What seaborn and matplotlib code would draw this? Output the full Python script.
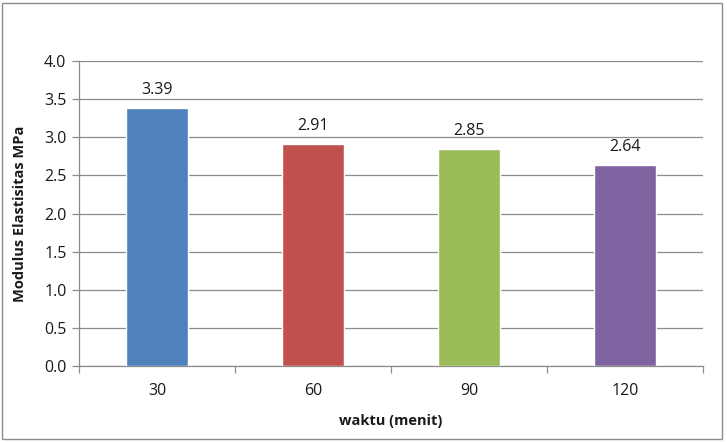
import matplotlib as mpl
import matplotlib.pyplot as plt
import pandas as pd
import seaborn as sns
from matplotlib.patches import Rectangle

waktu = ["30", "60", "90", "120"]
modulus = [3.39, 2.91, 2.85, 2.64]
bar_colors = ["#4F81BD", "#C0504D", "#9BBB59", "#8064A2"]
y_ticks = [0.0, 0.5, 1.0, 1.5, 2.0, 2.5, 3.0, 3.5, 4.0]

GRID = "#8c8c8c"
INK = "#1a1a1a"

sns.set_style("white")
mpl.rcParams["font.family"] = ["Open Sans", "DejaVu Sans"]

df = pd.DataFrame({"waktu": waktu, "modulus": modulus})

fig = plt.figure(figsize=(7.27, 4.42), dpi=100)
ax = fig.add_axes([79 / 727, 76 / 442, 624 / 727, 305 / 442])

sns.barplot(data=df, x="waktu", y="modulus", hue="waktu", palette=bar_colors,
            legend=False, width=0.4, saturation=1, ax=ax, zorder=3)

ax.set_ylim(0, 4.0)
ax.set_xlim(-0.5, len(waktu) - 0.5)
ax.set_yticks(y_ticks)
ax.set_yticklabels([f"{v:.1f}" for v in y_ticks])
ax.yaxis.grid(True, color=GRID, linewidth=0.9, zorder=0)
ax.set_axisbelow(True)

for side in ["top", "right"]:
    ax.spines[side].set_visible(False)
for side in ["left", "bottom"]:
    ax.spines[side].set_color(GRID)
    ax.spines[side].set_linewidth(0.9)

ax.tick_params(axis="y", which="major", length=5, width=0.9, color=GRID,
               labelsize=11.5, labelcolor=INK, pad=4, direction="out", left=True)
ax.tick_params(axis="x", which="major", length=0, labelsize=11.5, labelcolor=INK, pad=12)
ax.set_xticks([i - 0.5 for i in range(len(waktu) + 1)], minor=True)
ax.tick_params(axis="x", which="minor", length=5, width=0.9, color=GRID,
               direction="out", bottom=True)

ax.set_xlabel("waktu (menit)", fontsize=10.5, fontweight="bold", color=INK, labelpad=11)
ax.set_ylabel("Modulus Elastisitas MPa", fontsize=10.5, fontweight="bold", color=INK, labelpad=12)

for container in ax.containers:
    ax.bar_label(container, fmt="%.2f", padding=7, fontsize=11.5, color=INK)

fig.patches.append(Rectangle((2 / 727, 3 / 442), 720 / 727, 436 / 442,
                             transform=fig.transFigure, fill=False,
                             edgecolor="#8c8c8c", linewidth=1.0))

fig.savefig("out.png", dpi=100)
